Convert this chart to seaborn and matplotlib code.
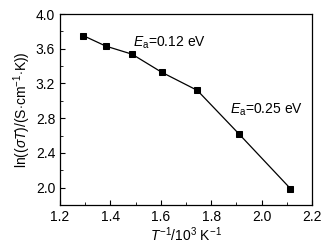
import matplotlib
matplotlib.use("Agg")
import matplotlib.pyplot as plt
import seaborn as sns
import pandas as pd
from matplotlib.ticker import MultipleLocator

inv_t = [1.293, 1.382, 1.486, 1.603, 1.745, 1.912, 2.114]
ln_sigma_t = [3.75, 3.63, 3.537, 3.33, 3.12, 2.613, 1.99]
df = pd.DataFrame({"x": inv_t, "y": ln_sigma_t})

sns.set_style("ticks")
plt.rcParams["font.family"] = ["Liberation Sans", "DejaVu Sans"]
plt.rcParams["mathtext.fontset"] = "custom"
plt.rcParams["mathtext.rm"] = "Liberation Sans"
plt.rcParams["mathtext.it"] = "Liberation Sans:italic"
plt.rcParams["text.color"] = "black"
plt.rcParams["axes.labelcolor"] = "black"
plt.rcParams["xtick.color"] = "black"
plt.rcParams["ytick.color"] = "black"

fig = plt.figure(figsize=(3.32, 2.49), dpi=100)
ax = fig.add_axes([60 / 332, 44 / 249, 252 / 332, 191 / 249])

sns.lineplot(data=df, x="x", y="y", ax=ax, color="black", lw=0.9,
             marker="s", markersize=4, markeredgecolor="black")

ax.set_xlim(1.2, 2.2)
ax.set_ylim(1.8, 4.0)
ax.xaxis.set_major_locator(MultipleLocator(0.2))
ax.xaxis.set_minor_locator(MultipleLocator(0.1))
ax.yaxis.set_minor_locator(MultipleLocator(0.2))
ax.set_yticks([2.0, 2.4, 2.8, 3.2, 3.6, 4.0])
ax.tick_params(which="both", direction="in", labelsize=10)
ax.tick_params(which="major", length=3.5)
ax.tick_params(which="minor", length=2)
for s in ax.spines.values():
    s.set_linewidth(0.9)
    s.set_color("black")

ax.set_xlabel(r"$T^{-1}$/10$^3$ K$^{-1}$", fontsize=10, labelpad=1)
ax.set_ylabel(r"ln(($\sigma T$)/(S$\cdot$cm$^{-1}$$\cdot$K))", fontsize=10, labelpad=2)

ax.text(1.49, 3.67, r"$E_{\rm a}$=0.12 eV", fontsize=10, va="center")
ax.text(1.875, 2.90, r"$E_{\rm a}$=0.25 eV", fontsize=10, va="center")

fig.savefig("out.png", dpi=100)
